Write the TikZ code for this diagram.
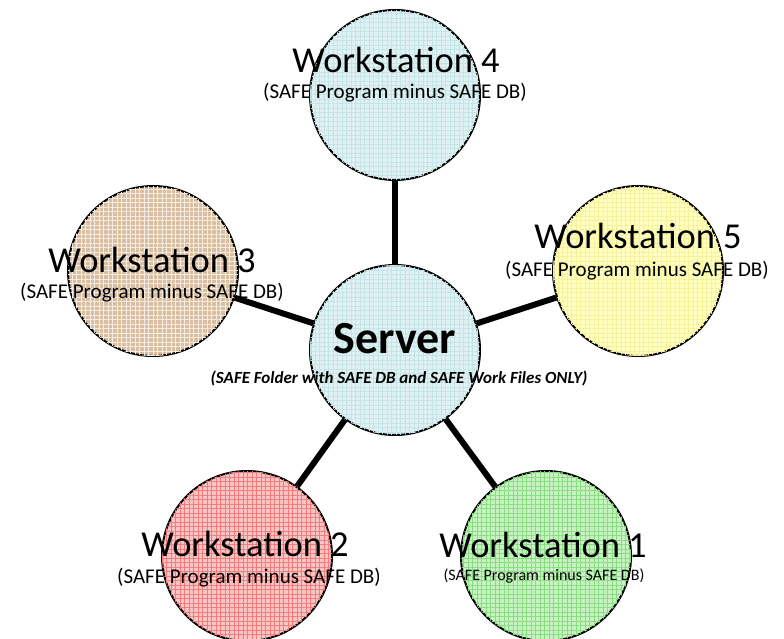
\documentclass[tikz,border=0pt]{standalone}
\usepackage{fontspec}
\setmainfont{Carlito}
\usetikzlibrary{patterns.meta}
\definecolor{cyanfill}{HTML}{DFF1F2}
\definecolor{cyangrid}{HTML}{C4E4E6}
\definecolor{tanfill}{HTML}{D9BE9F}
\definecolor{tangrid}{HTML}{F4EBE2}
\definecolor{yelfill}{HTML}{FFFFC4}
\definecolor{yelgrid}{HTML}{F6F29A}
\definecolor{redfill}{HTML}{F9C4C4}
\definecolor{redgrid}{HTML}{F07C7C}
\definecolor{grnfill}{HTML}{C8F2C2}
\definecolor{grngrid}{HTML}{8ADC82}
\tikzset{
  ws/.style={circle, draw=black, line width=2pt, minimum size=170pt, inner sep=0pt},
  gridfill/.style 2 args={fill=#1,
    postaction={pattern={Lines[angle=0,distance=4.5pt,line width=0.5pt]}, pattern color=#2},
    postaction={pattern={Lines[angle=90,distance=4.5pt,line width=0.5pt]}, pattern color=#2}},
  link/.style={line width=6pt, draw=black},
  wtitle/.style={anchor=base, inner sep=0pt, font=\fontsize{36.5}{40}\selectfont},
  wsub/.style={anchor=base, inner sep=0pt, font=\fontsize{21}{24}\selectfont},
  wsubsmall/.style={anchor=base, inner sep=0pt, font=\fontsize{16}{18}\selectfont},
}
\begin{document}
\begin{tikzpicture}[x=1pt,y=-1pt]
\useasboundingbox (0,0) rectangle (784,639);
\node[ws, gridfill={cyanfill}{cyangrid}] (srv) at (395,350) {};
\node[ws, gridfill={cyanfill}{cyangrid}] (ws4) at (395,95) {};
\node[ws, gridfill={tanfill}{tangrid}] (ws3) at (153,271) {};
\node[ws, gridfill={yelfill}{yelgrid}] (ws5) at (638,271) {};
\node[ws, gridfill={redfill}{redgrid}] (ws2) at (247,556) {};
\node[ws, gridfill={grnfill}{grngrid}] (ws1) at (546,556) {};
\draw[link] (srv) -- (ws4);
\draw[link] (srv) -- (ws3);
\draw[link] (srv) -- (ws5);
\draw[link] (srv) -- (ws2);
\draw[link] (srv) -- (ws1);
\node[anchor=base, inner sep=0pt, font=\fontsize{46}{50}\selectfont\bfseries] (srvt) at (395,353) {Server};
\node[anchor=base, inner sep=0pt, font=\fontsize{17}{20}\selectfont\bfseries\itshape] (srvs) at (399,383) {(SAFE Folder with SAFE DB and SAFE Work Files ONLY)};
\node[wtitle] (ws4t) at (396,73) {Workstation 4};
\node[wsub] (ws4s) at (395,99) {(SAFE Program minus SAFE DB)};
\node[wtitle] (ws3t) at (152,272) {Workstation 3};
\node[wsub] (ws3s) at (152,298) {(SAFE Program minus SAFE DB)};
\node[wtitle] (ws5t) at (638,248) {Workstation 5};
\node[wsub] (ws5s) at (637,276) {(SAFE Program minus SAFE DB)};
\node[wtitle] (ws2t) at (245,556) {Workstation 2};
\node[wsub] (ws2s) at (249,583) {(SAFE Program minus SAFE DB)};
\node[wtitle] (ws1t) at (543,557) {Workstation 1};
\node[wsubsmall] (ws1s) at (544,580) {(SAFE Program minus SAFE DB)};
\end{tikzpicture}
\end{document}
